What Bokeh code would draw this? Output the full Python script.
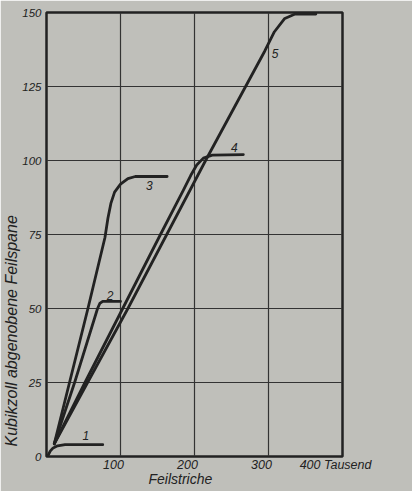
from bokeh.plotting import figure
from bokeh.models import Range1d, FixedTicker, Label, Title, LinearAxis
from bokeh.embed import file_html
from bokeh.resources import INLINE

# ---- data (x in thousands of file strokes, y in cubic inches of filings) ----
x_ticks = [100, 200, 300, 400]
x_tick_labels = {400: "400 Tausend"}
y_ticks = [0, 25, 50, 75, 100, 125, 150]

x1 = [2, 5, 9, 15, 25, 76]
y1 = [0.3, 1.8, 2.9, 3.6, 4.0, 4.0]

x2 = [10.5, 38, 69, 72, 76, 100]
y2 = [4.3, 25, 50, 51.7, 52.4, 52.4]

x3 = [10.5, 56, 79, 83, 87, 92, 100, 110, 120, 163]
y3 = [4.3, 50, 74, 80.5, 85.5, 89.3, 92, 93.9, 94.6, 94.6]

x4 = [10.5, 52, 103, 154, 185, 195, 203, 212, 224, 266]
y4 = [4.3, 25, 50, 75, 90, 95, 98.5, 100.8, 101.8, 102]

x5 = [10.5, 110, 215, 295, 308, 322, 336, 364]
y5 = [4.3, 50, 100, 137, 143.5, 148, 149.5, 149.5]

curve_names = ["1", "2", "3", "4", "5"]
name_x = [53, 86, 139, 254, 309]
name_y = [7.1, 54.4, 91.6, 104.5, 136]

BG = "#bfbfba"
INK = "#222222"
FONT = "Liberation Sans"

p = figure(width=412, height=491,
           x_range=Range1d(0, 400), y_range=Range1d(0, 150),
           output_backend="svg", toolbar_location=None,
           x_axis_location=None,
           min_border_left=45, min_border_right=70,
           min_border_top=12, min_border_bottom=35)

p.background_fill_color = BG
p.border_fill_color = BG
p.outline_line_color = INK
p.outline_line_width = 2.5

p.xgrid.ticker = FixedTicker(ticks=[100, 200, 300])
p.ygrid.ticker = FixedTicker(ticks=[25, 50, 75, 100, 125])
p.grid.grid_line_color = "#333333"
p.grid.grid_line_width = 1.2

# x labels sit just right of their grid lines, as in the print
p.extra_x_ranges = {"lab": Range1d(9.4, 409.4)}
xax = LinearAxis(x_range_name="lab", ticker=FixedTicker(ticks=x_ticks))
xax.major_label_overrides = x_tick_labels
xax.major_label_text_align = "left"
p.add_layout(xax, "below")

p.yaxis.ticker = FixedTicker(ticks=y_ticks)
for ax in (xax, p.yaxis[0]):
    ax.axis_line_color = None
    ax.major_tick_line_color = None
    ax.minor_tick_line_color = None
    ax.major_tick_out = 0
    ax.major_tick_in = 0
    ax.minor_tick_out = 0
    ax.major_label_text_font = FONT
    ax.major_label_text_font_style = "italic"
    ax.major_label_text_color = INK
xax.major_label_text_font_size = "12.5px"
xax.major_label_standoff = 1
p.yaxis.major_label_text_font_size = "11.5px"
p.yaxis.major_label_standoff = 5

p.add_layout(Title(text="Feilstriche", align="left", offset=102, standoff=-8,
                   vertical_align="top",
                   text_font=FONT, text_font_style="italic", text_font_size="14px",
                   text_color=INK), "below")
p.add_layout(Title(text="Kubikzoll abgenobene Feilspane", align="left", offset=10, standoff=0,
                   text_font=FONT, text_font_style="italic", text_font_size="16px",
                   text_color=INK), "left")

for xs, ys in ((x1, y1), (x2, y2), (x3, y3), (x4, y4), (x5, y5)):
    p.line(xs, ys, line_color=INK, line_width=2.8, line_join="round", line_cap="round")

for t, lx, ly in zip(curve_names, name_x, name_y):
    p.add_layout(Label(x=lx, y=ly, text=t, text_font=FONT, text_font_style="italic",
                       text_font_size="12px", text_color=INK,
                       text_align="center", text_baseline="middle"))

open("out.html", "w").write(file_html(p, INLINE))
